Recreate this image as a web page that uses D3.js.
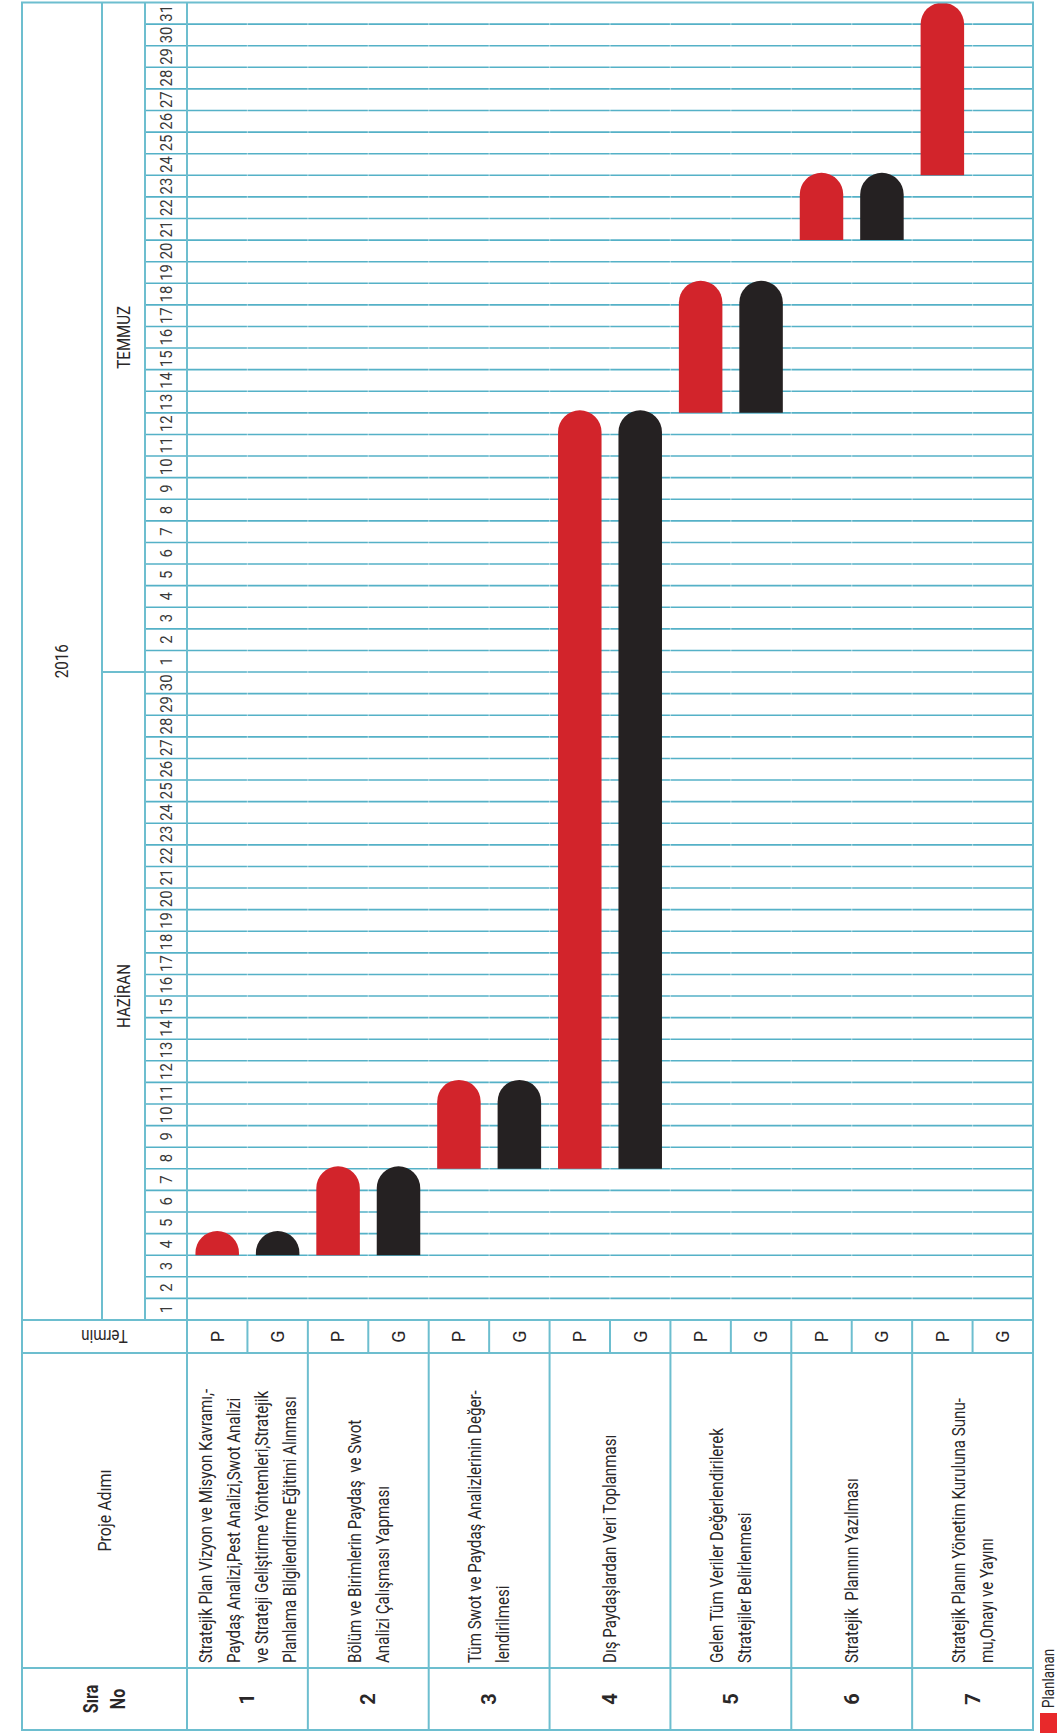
<!DOCTYPE html>
<html>
<head>
<meta charset="utf-8">
<script src="https://cdn.jsdelivr.net/npm/d3@7"></script>
<style>
  body { margin: 0; background: #fff; }
  svg { display: block; }
  text { font-family: Roboto, "Noto Sans", sans-serif; fill: #2a2728; white-space: pre; }
</style>
</head>
<body>
<svg id="chart" width="1057" height="1733"></svg>
<script>
// ---- data ----
const year = "2016";
const monthNames = ["HAZİRAN", "TEMMUZ"];
const periodStart = "2016-06-01";
const periodEnd = "2016-08-01";           // exclusive
const headerSira = ["Sıra", "No"];
const headerStep = "Proje Adımı";
const headerTerm = "Termin";
const termLabels = ["P", "G"];          // P = planlanan, G = gerçekleşen
const stepNo = [1, 2, 3, 4, 5, 6, 7];
const stepNames = [
  ["Stratejik Plan Vizyon ve Misyon Kavramı,-", "Paydaş Analizi,Pest Analizi,Swot Analizi", "ve Strateji Geliştirme Yöntemleri,Stratejik", "Planlama Bilgilendirme Eğitimi Alınması"],
  ["Bölüm ve Birimlerin Paydaş  ve Swot", "Analizi Çalışması Yapması"],
  ["Tüm Swot ve Paydaş Analizlerinin Değer-", "lendirilmesi"],
  ["Dış Paydaşlardan Veri Toplanması"],
  ["Gelen Tüm Veriler Değerlendirilerek", "Stratejiler Belirlenmesi"],
  ["Stratejik  Planının Yazılması"],
  ["Stratejik Planın Yönetim Kuruluna Sunu-", "mu,Onayı ve Yayını"]
];
const plannedStart = ["2016-06-04", "2016-06-04", "2016-06-08", "2016-06-08", "2016-07-13", "2016-07-21", "2016-07-24"];
const plannedEnd   = ["2016-06-04", "2016-06-07", "2016-06-11", "2016-07-12", "2016-07-18", "2016-07-23", "2016-07-31"];
const actualStart  = ["2016-06-04", "2016-06-04", "2016-06-08", "2016-06-08", "2016-07-13", "2016-07-21", null];
const actualEnd    = ["2016-06-04", "2016-06-07", "2016-06-11", "2016-07-12", "2016-07-18", "2016-07-23", null];
const legendLabel = "Planlanan";

// ---- layout ----
const frame = { left: 22, yearR: 102, monthR: 145, dayR: 187, right: 1033,
                top: 2.5, gridB: 1320, termB: 1353, nameB: 1668, bottom: 1730 };
const lineColor = "#6dbecf";
const dayLineColor = "#55b1c7";
const planColor = "#d2242b";
const actualColor = "#252122";
const condense = 0.84;

const parse = d3.utcParse("%Y-%m-%d");
const t0 = parse(periodStart), t1 = parse(periodEnd);

const svg = d3.select("#chart");

// time runs upward along the page
const y = d3.scaleUtc().domain([t0, t1]).range([frame.gridB, frame.top]);
const x = d3.scaleBand().domain(stepNo).range([frame.dayR, frame.right]);
const sub = d3.scaleBand().domain(termLabels).range([0, x.bandwidth()]);
const barBand = d3.scaleBand().domain(termLabels).range([0, x.bandwidth()])
  .paddingInner(0.28).paddingOuter(0.14);

function vtext(g, px, py, str, o = {}) {
  const size = o.size || 18, rot = o.rot === undefined ? -90 : o.rot;
  const sx = o.sx === undefined ? condense : o.sx;
  return g.append("text")
    .attr("transform", `translate(${px},${py}) rotate(${rot}) scale(${sx},1)`)
    .attr("text-anchor", o.anchor || "middle")
    .attr("dy", "0.35em")
    .style("font-size", size + "px")
    .style("font-weight", o.weight || 400)
    .style("fill", o.fill || null)
    .text(str);
}

const days = d3.utcDays(t0, t1);
const boundaries = d3.utcDays(t0, d3.utcDay.offset(t1, 1));

// day grid lines
const grid = svg.append("g");
grid.selectAll("line.day").data(boundaries.slice(1, -1)).join("line")
  .attr("x1", frame.monthR).attr("x2", frame.right)
  .attr("y1", d => y(d)).attr("y2", d => y(d))
  .attr("stroke", dayLineColor).attr("stroke-width", 1.6);

// faint breaks in the grid at every P/G column boundary
const colEdges = [];
stepNo.forEach(s => { colEdges.push(x(s) + sub("G")); if (s !== stepNo[0]) colEdges.push(x(s)); });
grid.selectAll("line.brk").data(colEdges).join("line")
  .attr("x1", d => d).attr("x2", d => d)
  .attr("y1", frame.top).attr("y2", frame.gridB)
  .attr("stroke", "#fff").attr("stroke-opacity", 0.45).attr("stroke-width", 1.2);

// bars with a rounded top
function barPath(cx, w, start, end, pad) {
  const b = y(parse(start));
  const tp = y(d3.utcDay.offset(parse(end), 1)) - pad;
  const r = w / 2, x0 = cx - r, x1 = cx + r;
  return `M${x0},${b}V${tp + r}A${r},${r} 0 0 1 ${x1},${tp + r}V${b}Z`;
}
const bars = svg.append("g");
stepNo.forEach((s, i) => {
  const w = barBand.bandwidth();
  const series = [
    { key: "P", start: plannedStart[i], end: plannedEnd[i], color: planColor },
    { key: "G", start: actualStart[i], end: actualEnd[i], color: actualColor }
  ];
  series.filter(d => d.start).forEach(d => {
    const cx = x(s) + barBand(d.key) + w / 2;
    const pad = d.end === "2016-07-31" ? 0 : 2.5;
    bars.append("path").attr("d", barPath(cx, w, d.start, d.end, pad)).attr("fill", d.color);
  });
});

// frame lines
const fr = svg.append("g").attr("stroke", lineColor).attr("stroke-width", 2).attr("fill", "none");
fr.append("rect").attr("x", frame.left).attr("y", frame.top)
  .attr("width", frame.right - frame.left).attr("height", frame.bottom - frame.top);
[frame.yearR, frame.monthR].forEach(v =>
  fr.append("line").attr("x1", v).attr("x2", v).attr("y1", frame.top).attr("y2", frame.gridB));
fr.append("line").attr("x1", frame.dayR).attr("x2", frame.dayR).attr("y1", frame.top).attr("y2", frame.bottom);
[frame.gridB, frame.termB, frame.nameB].forEach(v =>
  fr.append("line").attr("x1", frame.left).attr("x2", frame.right).attr("y1", v).attr("y2", v));
stepNo.slice(1).forEach(s =>
  fr.append("line").attr("x1", x(s)).attr("x2", x(s)).attr("y1", frame.gridB).attr("y2", frame.bottom));
stepNo.forEach(s =>
  fr.append("line").attr("x1", x(s) + sub("G")).attr("x2", x(s) + sub("G")).attr("y1", frame.gridB).attr("y2", frame.termB));
// month separators
const months = d3.utcMonths(t0, t1);
months.slice(1).forEach(m =>
  fr.append("line").attr("x1", frame.yearR).attr("x2", frame.monthR).attr("y1", y(m)).attr("y2", y(m)));

// texts
const tx = svg.append("g");
vtext(tx, (frame.left + frame.yearR) / 2, (frame.top + frame.gridB) / 2, year, { size: 18 });
months.forEach((m, i) => {
  const end = d3.utcMonth.offset(m, 1);
  vtext(tx, (frame.yearR + frame.monthR) / 2, (y(m) + y(end)) / 2, monthNames[i], { size: 18 });
});
days.forEach(d => {
  const mid = (y(d) + y(d3.utcDay.offset(d, 1))) / 2;
  vtext(tx, (frame.monthR + frame.dayR) / 2 + 0.5, mid, String(d.getUTCDate()), { size: 16.5, sx: 0.9, fill: "#3a3a3a" });
});

// lower table headers
const nameMidY = (frame.termB + frame.nameB) / 2;
const noMidY = (frame.nameB + frame.bottom) / 2;
const headMidX = (frame.left + frame.dayR) / 2;
vtext(tx, headMidX, (frame.gridB + frame.termB) / 2, headerTerm, { size: 18, rot: 180 });
vtext(tx, headMidX, nameMidY, headerStep, { size: 19 });
headerSira.forEach((t, i) =>
  vtext(tx, headMidX + (i - 0.5) * 27, noMidY, t, { size: 20, weight: 700, sx: 0.8 }));

stepNo.forEach((s, i) => {
  termLabels.forEach(k =>
    vtext(tx, x(s) + sub(k) + sub.bandwidth() / 2, (frame.gridB + frame.termB) / 2, k, { size: 18, sx: 1 }));
  vtext(tx, x(s) + x.bandwidth() / 2, noMidY, String(s), { size: 20, weight: 700, sx: 1 });
  const lines = stepNames[i];
  lines.forEach((ln, j) =>
    vtext(tx, x(s) + x.bandwidth() / 2 + (j - (lines.length - 1) / 2) * 28, frame.nameB - 5, ln,
      { size: 18, anchor: "start" }));
});

// legend
const lg = svg.append("g");
lg.append("rect").attr("x", 1040).attr("y", 1713).attr("width", 20).attr("height", 20).attr("fill", "#e8292b");
vtext(lg, 1048, 1708, legendLabel, { size: 16, anchor: "start" });
</script>
</body>
</html>
